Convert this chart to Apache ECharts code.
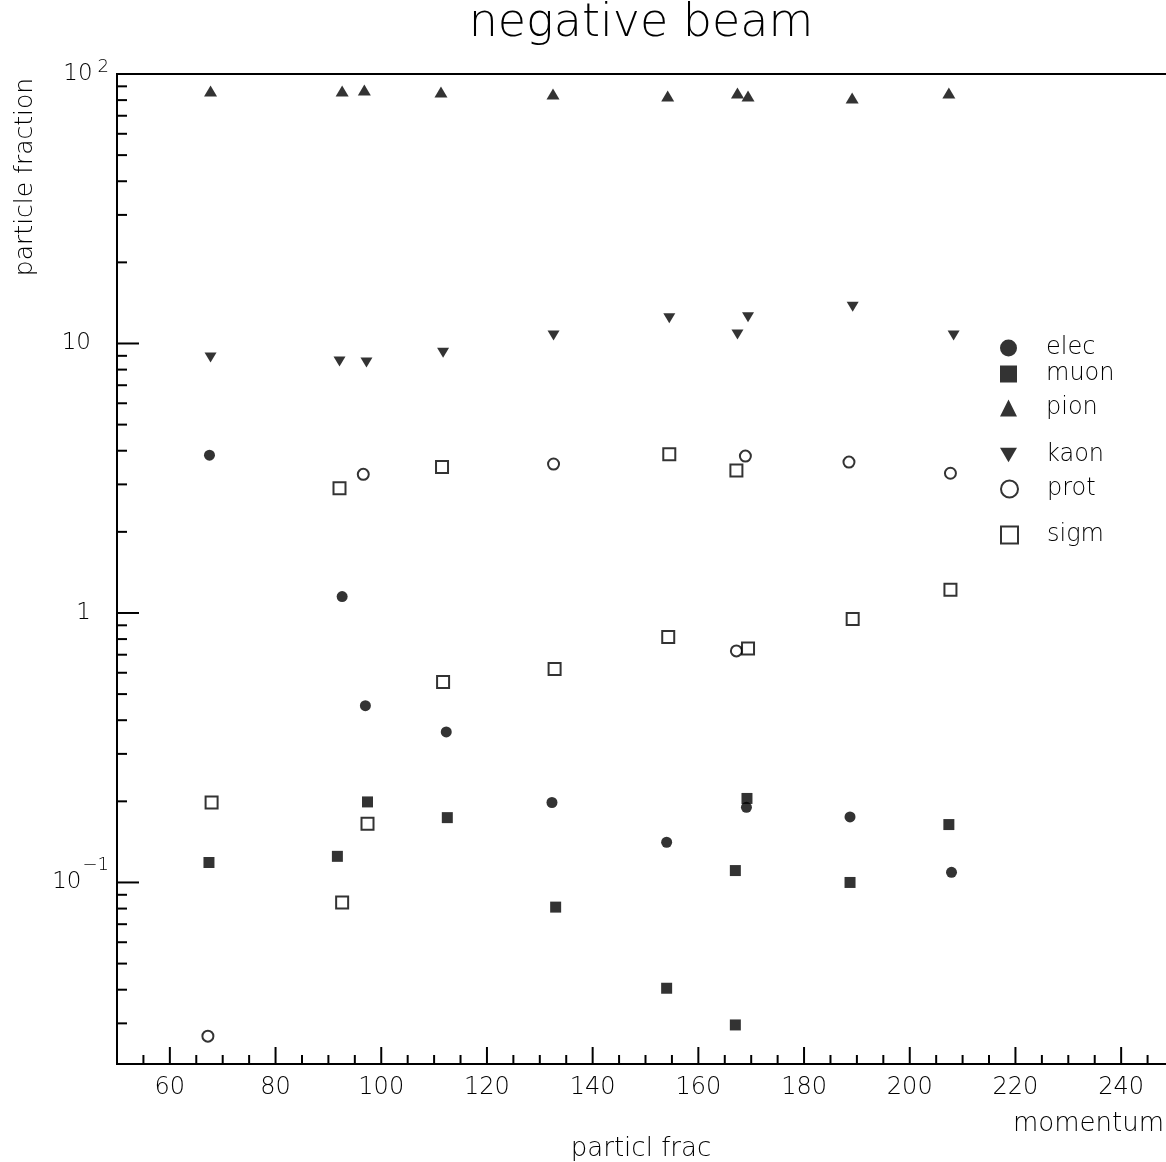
<!DOCTYPE html>
<html>
<head>
<meta charset="utf-8">
<script src="https://cdn.jsdelivr.net/npm/echarts@6/dist/echarts.min.js"></script>
<style>html,body{margin:0;padding:0;background:#fff;}#chart{width:1166px;height:1162px;}</style>
</head>
<body>
<div id="chart"></div>
<script>
// ---- data ----
const elecData = [[67.5,3.85],[92.6,1.15],[97.0,0.453],[112.3,0.362],[132.3,0.198],[154.0,0.141],[169.1,0.19],[188.7,0.175],[207.9,0.109]];
const muonData = [[67.4,0.1186],[91.7,0.125],[97.4,0.199],[112.5,0.174],[133.0,0.081],[154.0,0.0405],[167.0,0.1107],[167.0,0.0296],[169.2,0.205],[188.7,0.100],[207.4,0.164]];
const pionData = [[67.7,86.5],[92.6,86.5],[96.8,87.3],[111.3,85.8],[132.5,84.3],[154.2,82.9],[167.4,85.0],[169.4,82.9],[189.1,81.5],[207.4,85.0]];
const kaonData = [[67.7,8.87],[92.1,8.57],[97.2,8.5],[111.7,9.24],[132.6,10.7],[154.5,12.4],[167.4,10.8],[169.4,12.5],[189.2,13.7],[208.3,10.7]];
const protData = [[67.2,0.0269],[96.6,3.27],[132.6,3.57],[167.2,0.723],[168.9,3.82],[188.5,3.63],[207.7,3.30]];
const sigmData = [[67.9,0.198],[92.1,2.90],[92.6,0.0843],[97.4,0.165],[111.5,3.48],[111.7,0.555],[132.8,0.62],[154.5,3.88],[154.3,0.815],[167.2,3.38],[169.4,0.738],[189.2,0.95],[207.7,1.22]];

const seriesNames = ['elec','muon','pion','kaon','prot','sigm'];
const legendY = [345, 371, 405, 452, 486, 532];

const xMin = 50, xMax = 250;
const yMin = 0.0212, yMax = 100;
const xLabelValues = [60,80,100,120,140,160,180,200,220,240];
const yLabelValues = [0.1, 1, 10, 100];
const yLabelTexts = ['{b|10}{en|\u22121}', '{p|1}', '{p|10}', '{b|10}{ep|2}'];

// tick structure (axis decoration)
const xMajorTicks = xLabelValues.slice();
const xMinorTicks = [];
for (let v = 55; v <= 245; v += 5) { if (xMajorTicks.indexOf(v) < 0) xMinorTicks.push(v); }
const yMajorTicks = yLabelValues.slice();
const yMinorTicks = [];
[0.01, 0.1, 1, 10].forEach(d => { for (let k = 2; k <= 9; k++) { const v = +(d * k).toPrecision(3); if (v > yMin && v < yMax) yMinorTicks.push(v); } });

const FONT = "'DejaVu Sans'";
const FW = 200;

const chart = echarts.init(document.getElementById('chart'), null, {renderer: 'canvas'});

function tickSeries(name, values, axis, len) {
  return {
    type: 'custom', name: name, silent: true, clip: false, z: 5,
    data: values.map(v => axis === 'y' ? [xMin, v] : [v, yMin]),
    renderItem: function (params, api) {
      const p = api.coord([api.value(0), api.value(1)]);
      const shape = axis === 'y'
        ? {x1: p[0], y1: p[1], x2: p[0] + len, y2: p[1]}
        : {x1: p[0], y1: p[1], x2: p[0], y2: p[1] - len};
      return {type: 'line', shape: shape, style: {stroke: '#000', lineWidth: 2}};
    }
  };
}

const downTri = 'path://M0,0L20,0L10,17Z';
const filled = {color: '#000'};
const open = {color: '#fff', borderColor: '#000', borderWidth: 2};

const option = {
  backgroundColor: '#fff',
  animation: false,
  grid: {left: 117, top: 74, width: 1057, height: 990, outerBoundsMode: 'none', containLabel: false,
         show: true, borderColor: '#000', borderWidth: 2, backgroundColor: 'transparent'},
  xAxis: {
    type: 'value', min: xMin, max: xMax, interval: 10,
    axisLine: {lineStyle: {color: '#000', width: 2}},
    axisTick: {show: false}, splitLine: {show: false},
    axisLabel: {
      margin: 12, color: '#000', fontSize: 24, fontFamily: FONT, fontWeight: FW,
      formatter: v => xLabelValues.indexOf(v) >= 0 ? String(v) : ''
    }
  },
  yAxis: {
    type: 'log', logBase: 10, min: yMin, max: yMax,
    axisLine: {lineStyle: {color: '#000', width: 2}},
    axisTick: {show: false}, splitLine: {show: false}, minorTick: {show: false},
    axisLabel: {
      margin: 8, color: '#000', fontSize: 22, fontFamily: FONT, fontWeight: FW,
      formatter: function (v) {
        for (let i = 0; i < yLabelValues.length; i++) {
          if (Math.abs(Math.log10(v) - Math.log10(yLabelValues[i])) < 1e-6) return yLabelTexts[i];
        }
        return '';
      },
      rich: {
        p: {fontSize: 23, fontFamily: FONT, fontWeight: FW, color: '#000', padding: [0, 18, 0, 0]},
        b: {fontSize: 23, fontFamily: FONT, fontWeight: FW, color: '#000'},
        ep: {fontSize: 18, fontFamily: FONT, fontWeight: FW, color: '#000', padding: [0, 0, 14, 5]},
        en: {fontSize: 18, fontFamily: FONT, fontWeight: FW, color: '#000', padding: [0, 0, 34, 1]}
      }
    }
  },
  legend: seriesNames.map((n, i) => ({
    data: [n], left: 995, top: legendY[i] - 14, orient: 'vertical',
    itemWidth: 17, itemHeight: 17, selectedMode: false,
    textStyle: {fontSize: 24, fontFamily: FONT, fontWeight: FW, color: '#000', lineHeight: 20, padding: [0, 0, 0, 24]}
  })),
  graphic: [
    {type: 'text', x: 641, y: 24, style: {text: 'negative beam', fill: '#000', font: FW + " 46px " + FONT, textAlign: 'center', textVerticalAlign: 'middle'}},
    {type: 'text', x: 25, y: 177, rotation: Math.PI / 2, style: {text: 'particle fraction', fill: '#000', font: FW + " 25px " + FONT, textAlign: 'center', textVerticalAlign: 'middle'}},
    {type: 'text', x: 1164, y: 1124, style: {text: 'momentum', fill: '#000', font: FW + " 26px " + FONT, textAlign: 'right', textVerticalAlign: 'middle'}},
    {type: 'text', x: 641, y: 1149, style: {text: 'particl frac', fill: '#000', font: FW + " 26px " + FONT, textAlign: 'center', textVerticalAlign: 'middle'}}
  ],
  series: [
    {name: 'elec', type: 'scatter', data: elecData, symbol: 'circle', symbolSize: 11, itemStyle: filled, z: 3},
    {name: 'muon', type: 'scatter', data: muonData, symbol: 'rect', symbolSize: 11, itemStyle: filled, z: 3},
    {name: 'pion', type: 'scatter', data: pionData, symbol: 'triangle', symbolSize: [13, 11], itemStyle: filled, z: 3},
    {name: 'kaon', type: 'scatter', data: kaonData, symbol: downTri, symbolSize: [12, 10], itemStyle: filled, z: 3},
    {name: 'prot', type: 'scatter', data: protData, symbol: 'circle', symbolSize: 11, itemStyle: open, z: 4},
    {name: 'sigm', type: 'scatter', data: sigmData, symbol: 'rect', symbolSize: 12, itemStyle: open, z: 4},
    tickSeries('yMajor', yMajorTicks, 'y', 22),
    tickSeries('yMinor', yMinorTicks, 'y', 10),
    tickSeries('xMajor', xMajorTicks, 'x', 17),
    tickSeries('xMinor', xMinorTicks, 'x', 9)
  ]
};
chart.setOption(option);
</script>
</body>
</html>
